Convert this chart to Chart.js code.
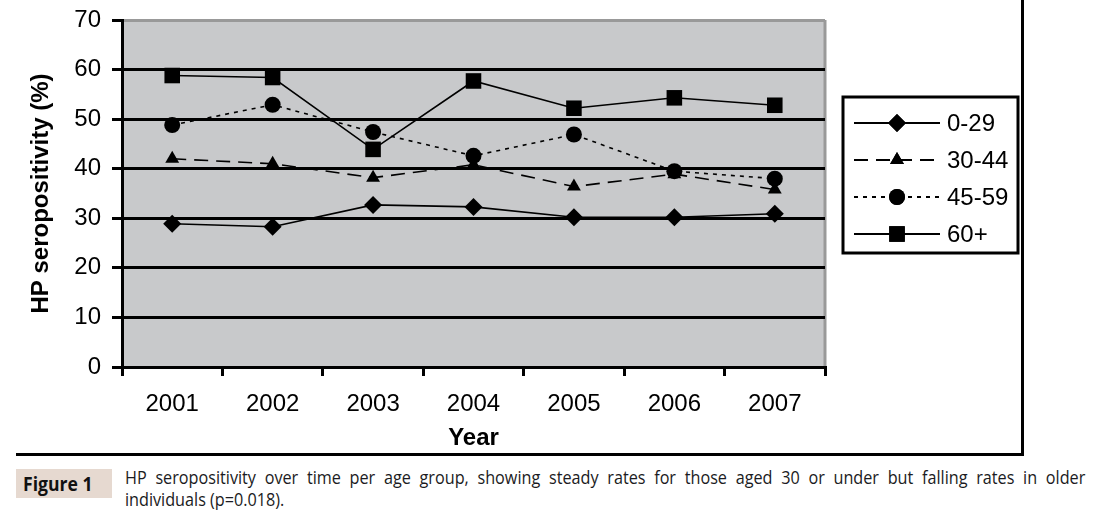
<!DOCTYPE html>
<html>
<head>
<meta charset="utf-8">
<script src="https://cdn.jsdelivr.net/npm/chart.js@4.4.1/dist/chart.umd.min.js"></script>
<style>
  html, body { margin: 0; padding: 0; background: #ffffff; }
  #wrap { position: relative; width: 1099px; height: 515px; overflow: hidden; background: #fff; }
  #c { position: absolute; left: 0; top: 0; }
  #frame { position: absolute; left: 16px; top: -10px; width: 1005px; height: 463px;
           border-right: 3px solid #000; border-bottom: 3px solid #000; }
  #figlab { position: absolute; left: 16px; top: 469px; width: 96px; height: 29px;
            background: #e6d9d0; font-family: "Open Sans", sans-serif; font-weight: bold;
            font-size: 20px; line-height: 29px; color: #111; overflow: hidden; }
  #figlab span { display: inline-block; transform: scaleX(0.88); transform-origin: left center; margin-left: 7px; }
  .cap { position: absolute; left: 125px; width: 1067px; font-family: "Open Sans", sans-serif;
         font-size: 18px; color: #1b1b22; white-space: nowrap; transform: scaleX(0.9); transform-origin: left top; }
  #cap1 { top: 465px; text-align: justify; text-align-last: justify; white-space: normal; }
  #cap2 { top: 487px; }
</style>
</head>
<body>
<div id="wrap">
  <canvas id="c" width="1099" height="460" style="width:1099px;height:460px"></canvas>
  <div id="frame"></div>
  <div id="figlab"><span>Figure 1</span></div>
  <div class="cap" id="cap1">HP seropositivity over time per age group, showing steady rates for those aged 30 or under but falling rates in older</div>
  <div class="cap" id="cap2">individuals (p=0.018).</div>
</div>
<script>
const years = ["2001", "2002", "2003", "2004", "2005", "2006", "2007"];
const seriesLabels = ["0-29", "30-44", "45-59", "60+"];
const age0_29  = [28.9, 28.3, 32.7, 32.3, 30.2, 30.2, 30.9];
const age30_44 = [42.0, 41.0, 38.2, 40.8, 36.4, 38.9, 35.8];
const age45_59 = [48.8, 52.9, 47.4, 42.6, 46.9, 39.5, 38.0];
const age60p   = [58.8, 58.4, 43.9, 57.7, 52.2, 54.3, 52.8];
const yTicks = [0, 10, 20, 30, 40, 50, 60, 70];

const FONT = "Arial, 'Liberation Sans', sans-serif";

const styles = [
  { pointStyle: 'rectRot', radius: 9, dash: [] },
  { pointStyle: 'triangle', radius: 8, dash: [14, 8] },
  { pointStyle: 'circle', radius: 8, dash: [4, 5] },
  { pointStyle: 'rect', radius: 11, dash: [] }
];
const allData = [age0_29, age30_44, age45_59, age60p];

const datasets = allData.map((d, i) => ({
  label: seriesLabels[i],
  data: d,
  borderColor: '#000',
  backgroundColor: '#000',
  borderWidth: 1.6,
  borderDash: styles[i].dash,
  pointStyle: styles[i].pointStyle,
  pointRadius: styles[i].radius,
  pointHoverRadius: styles[i].radius,
  pointBackgroundColor: '#000',
  pointBorderColor: '#000',
  pointBorderWidth: 0,
  tension: 0,
  fill: false
}));

const bgPlugin = {
  id: 'plotBg',
  beforeDraw(chart) {
    const { ctx, chartArea: a } = chart;
    ctx.save();
    ctx.fillStyle = '#c8c9cb';
    ctx.fillRect(a.left, a.top, a.right - a.left, a.bottom - a.top);
    ctx.strokeStyle = '#999999';
    ctx.lineWidth = 3;
    ctx.beginPath();
    ctx.moveTo(a.right, a.top);
    ctx.lineTo(a.right, a.bottom);
    ctx.stroke();
    ctx.restore();
  }
};

const legendPlugin = {
  id: 'customLegend',
  afterDraw(chart) {
    const ctx = chart.ctx;
    const box = { x: 843, y: 97, w: 175, h: 156 };
    ctx.save();
    ctx.fillStyle = '#fff';
    ctx.fillRect(box.x, box.y, box.w, box.h);
    ctx.strokeStyle = '#000';
    ctx.lineWidth = 3;
    ctx.strokeRect(box.x, box.y, box.w, box.h);
    const rowsY = [123, 160, 197, 234];
    chart.data.datasets.forEach((ds, i) => {
      const y = rowsY[i];
      ctx.strokeStyle = '#000';
      ctx.lineWidth = 2;
      ctx.setLineDash(ds.borderDash || []);
      ctx.beginPath();
      ctx.moveTo(854, y);
      ctx.lineTo(940, y);
      ctx.stroke();
      ctx.setLineDash([]);
      ctx.fillStyle = '#000';
      Chart.helpers.drawPoint(ctx, {
        pointStyle: ds.pointStyle, radius: ds.pointRadius, rotation: 0, borderWidth: 0
      }, 897, y);
      ctx.fill();
      ctx.fillStyle = '#000';
      ctx.font = '24px ' + FONT;
      ctx.textBaseline = 'middle';
      ctx.textAlign = 'left';
      ctx.fillText(ds.label, 947, y + 1);
    });
    ctx.restore();
  }
};

new Chart(document.getElementById('c'), {
  type: 'line',
  data: { labels: years, datasets },
  plugins: [bgPlugin, legendPlugin],
  options: {
    responsive: false,
    animation: false,
    devicePixelRatio: 1,
    layout: { padding: { left: 0, right: 274, top: 20, bottom: 0 } },
    plugins: { legend: { display: false }, tooltip: { enabled: false } },
    scales: {
      x: {
        type: 'category',
        offset: true,
        afterFit(scale) { scale.height = 93; scale.paddingLeft = 0; scale.paddingRight = 0; },
        grid: {
          offset: true,
          drawOnChartArea: false,
          drawTicks: true,
          tickLength: 9,
          tickWidth: 3,
          tickColor: '#000',
          color: '#000',
          lineWidth: 3
        },
        border: { display: true, color: '#000', width: 3 },
        ticks: { color: '#000', font: { family: FONT, size: 24 }, padding: 14, maxRotation: 0, autoSkip: false },
        title: { display: true, text: 'Year', color: '#000',
                 font: { family: FONT, size: 24, weight: 'bold' }, padding: { top: 0, bottom: 7 } }
      },
      y: {
        min: 0, max: 70,
        afterFit(scale) { scale.width = 122; scale.paddingTop = 0; scale.paddingBottom = 0; },
        afterBuildTicks(scale) { scale.ticks = yTicks.map(v => ({ value: v })); },
        grid: {
          drawTicks: true,
          tickLength: 10,
          tickWidth: 3,
          tickColor: '#000',
          color: (c) => (c.tick && c.tick.value === 70 ? '#999999' : '#000'),
          lineWidth: 3
        },
        border: { display: true, color: '#000', width: 3 },
        ticks: { color: '#000', font: { family: FONT, size: 24 }, padding: 11 },
        title: { display: true, text: 'HP seropositivity (%)', color: '#000',
                 font: { family: FONT, size: 24, weight: 'bold' }, padding: { top: 27, bottom: 0 } }
      }
    }
  }
});
</script>
</body>
</html>
